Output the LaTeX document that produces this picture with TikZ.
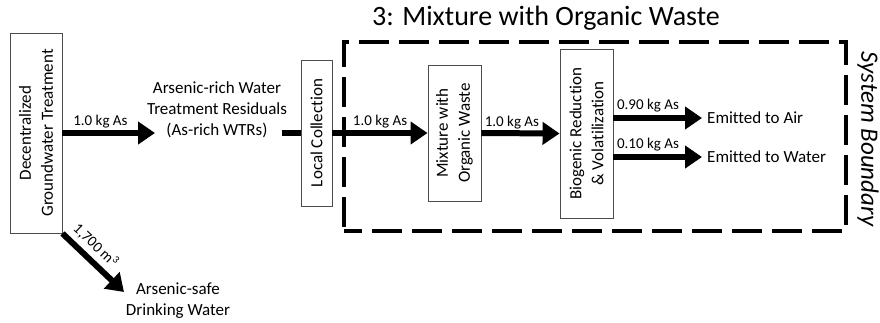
\documentclass[tikz,border=0pt]{standalone}
\usepackage{fontspec}
\setmainfont{Carlito}[Ligatures=NoCommon]
\usetikzlibrary{arrows.meta}
\begin{document}
\begin{tikzpicture}[x=1pt,y=-1pt,
  box/.style={draw=black!70, line width=0.9pt, fill=white, rotate=90,
    inner sep=0pt, align=center, font=\fontsize{17}{22}\selectfont},
  flow/.style={line width=6pt, -{Triangle[length=17pt,width=22pt]}},
  qty/.style={font=\fontsize{15}{18}\selectfont, inner sep=0.5pt},
  txt/.style={font=\fontsize{17}{21}\selectfont, align=center, inner sep=0pt},
  boundary/.style={draw, line width=3.5pt, dash pattern=on 30pt off 10pt,
    dash phase=12pt, inner sep=0pt}
]
\useasboundingbox (0,0) rectangle (880,322);

% system boundary and its captions
\node[boundary, minimum width=502pt, minimum height=189pt] (sysb) at (595,136.5) {};
\node[font=\fontsize{28}{32}\selectfont, inner sep=0pt] (title) at (546,18) {3: Mixture with Organic Waste};
\node[font=\fontsize{25}{28}\selectfont\itshape, rotate=-90, inner sep=0pt] (sbl) at (868,139) {System Boundary};

% process boxes (text runs bottom to top)
\node[box, minimum width=200pt, minimum height=52pt] (dgt) at (36,133) {Decentralized\\Groundwater Treatment};
\node[box, minimum width=146pt, minimum height=31pt] (lc) at (316.5,133) {Local Collection};
\node[box, minimum width=136pt, minimum height=53pt] (mix) at (454.5,133) {Mixture with\\Organic Waste};
\node[box, minimum width=169pt, minimum height=53pt] (bio) at (586.5,133.5) {Biogenic Reduction\\\& Volatilization};

% intermediate and final products
\node[txt] (wtr) at (217,110) {Arsenic-rich Water\\Treatment Residuals\\(As-rich WTRs)};
\node[txt] (safe) at (178,301) {Arsenic-safe\\Drinking Water};
\node[txt, anchor=west, inner xsep=5pt] (air) at (702,118) {Emitted to Air};
\node[txt, anchor=west, inner xsep=5pt] (water) at (702,157) {Emitted to Water};

% free ends of the flows around the residuals
\coordinate (wtrin) at (155,133);
\coordinate (wtrout) at (282,133);
\coordinate (safein) at (124,292);

% flows
\draw[flow] (dgt.south) -- node[qty, above=1pt, pos=0.41] {1.0 kg As} (wtrin);
\draw[line width=6pt] (wtrout) -- (lc.north);
\draw[flow] (lc.south) -- node[qty, above=1pt, pos=0.5] {1.0 kg As} (mix.north);
\draw[flow] (mix.south) -- node[qty, above=1pt, pos=0.39] {1.0 kg As} (bio.north);
\draw[flow] (bio.south |- air.west) -- node[qty, above=2pt, pos=0.39] {0.90 kg As} (air.west);
\draw[flow] (bio.south |- water.west) -- node[qty, above=2pt, pos=0.39] {0.10 kg As} (water.west);
\draw[flow] (dgt.south west) -- node[qty, sloped, above=4pt, pos=0.38] {1,700 m\textsuperscript{3}} (safein);
\end{tikzpicture}
\end{document}
